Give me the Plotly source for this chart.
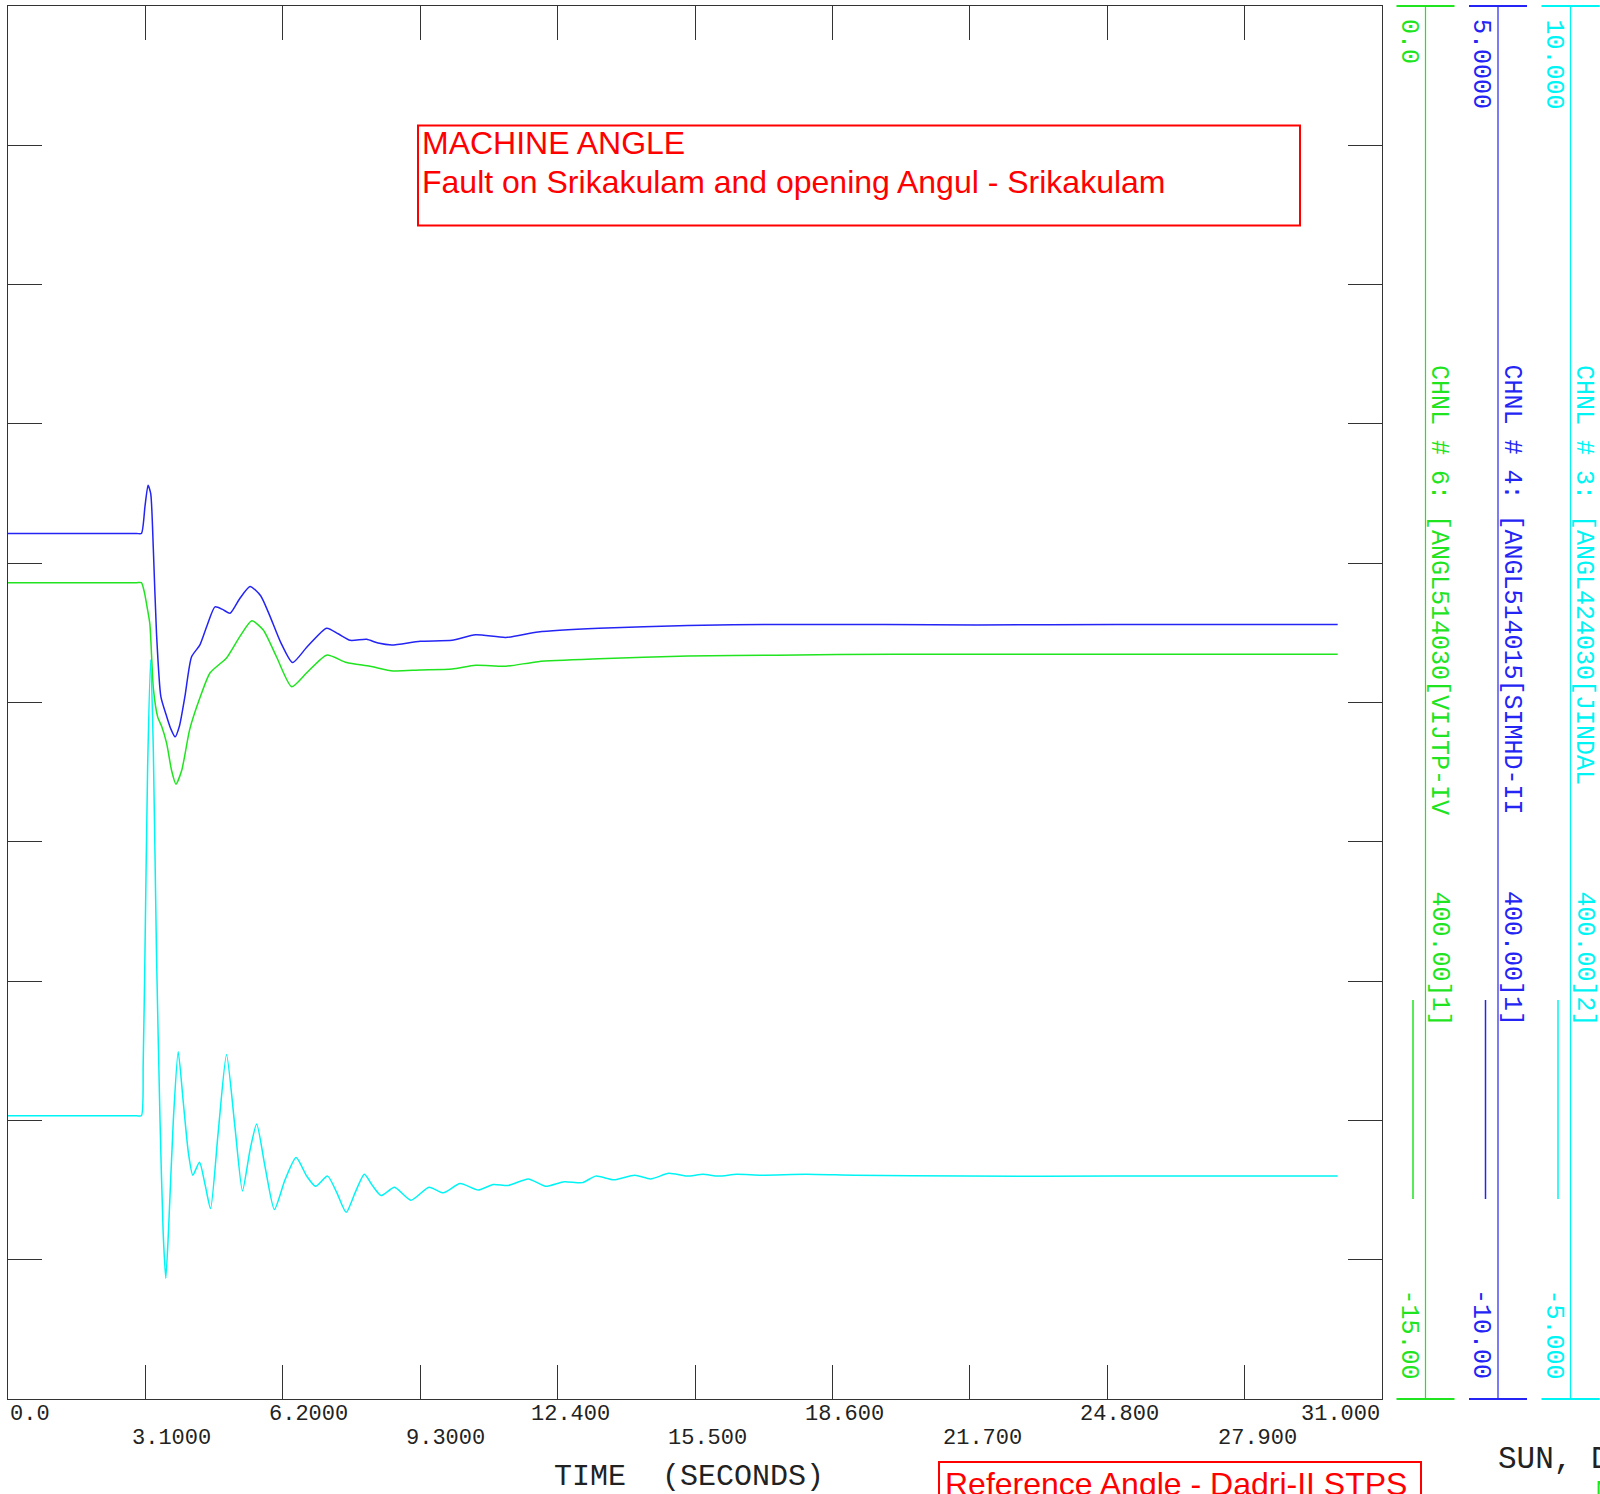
import plotly.graph_objects as go

# ---- values (time in seconds, machine angle in degrees) ----
t_green = [0.0, 1.5, 2.9, 3.01, 3.08, 3.13, 3.20, 3.28, 3.38, 3.47, 3.58, 3.69, 3.79, 3.92, 4.10,
           4.33, 4.56, 4.93, 5.23, 5.50, 5.76, 6.06, 6.40, 6.74, 7.19, 7.64, 8.17, 8.69, 9.30,
           10.02, 10.55, 11.23, 11.96, 13.33, 15.34, 17.35, 20.0, 25.0, 30.0]
ang_green = [-6.21, -6.21, -6.21, -6.21, -6.32, -6.45, -6.65, -7.35, -7.66, -7.76, -7.94, -8.23,
             -8.38, -8.23, -7.79, -7.45, -7.18, -7.02, -6.79, -6.62, -6.72, -7.01, -7.33, -7.18,
             -6.99, -7.07, -7.11, -7.16, -7.15, -7.14, -7.10, -7.11, -7.06, -7.03, -7.00, -6.99,
             -6.98, -6.98, -6.98]

t_blue = [0.0, 1.5, 2.9, 3.01, 3.09, 3.16, 3.22, 3.28, 3.35, 3.45, 3.58, 3.67, 3.77, 3.87, 3.99,
          4.14, 4.33, 4.50, 4.67, 4.85, 5.01, 5.23, 5.46, 5.70, 5.91, 6.15, 6.42, 6.75, 7.19,
          7.45, 7.72, 8.09, 8.35, 8.66, 9.30, 10.02, 10.55, 11.23, 11.96, 13.33, 15.34, 17.35,
          19.77, 21.87, 25.0, 30.0]
ang_blue = [-0.68, -0.68, -0.68, -0.68, -0.39, -0.16, -0.25, -0.86, -1.75, -2.44, -2.65, -2.78,
            -2.87, -2.75, -2.44, -2.01, -1.88, -1.66, -1.47, -1.50, -1.54, -1.38, -1.25, -1.35,
            -1.57, -1.85, -2.07, -1.90, -1.70, -1.76, -1.83, -1.82, -1.86, -1.88, -1.84, -1.83,
            -1.77, -1.80, -1.74, -1.70, -1.67, -1.66, -1.66, -1.665, -1.66, -1.66]

t_cyan = [0.0, 1.5, 2.9, 3.01, 3.05, 3.09, 3.15, 3.22, 3.28, 3.35, 3.43, 3.50, 3.56, 3.62, 3.73,
          3.84, 3.95, 4.07, 4.17, 4.32, 4.45, 4.57, 4.74, 4.93, 5.12, 5.29, 5.46, 5.61, 5.80,
          6.01, 6.25, 6.50, 6.74, 6.94, 7.21, 7.42, 7.63, 7.83, 8.04, 8.22, 8.42, 8.72, 9.09,
          9.50, 9.82, 10.20, 10.61, 10.95, 11.29, 11.74, 12.13, 12.55, 12.96, 13.26, 13.67,
          14.14, 14.50, 14.91, 15.32, 15.68, 16.03, 16.44, 17.00, 18.00, 19.10, 21.60, 25.0, 30.0]
ang_cyan = [-1.95, -1.95, -1.95, -1.95, -1.40, -0.20, 1.80, 2.96, 1.96, -0.20, -2.00, -3.20,
            -3.70, -3.20, -2.00, -1.26, -1.78, -2.35, -2.59, -2.45, -2.70, -2.95, -2.14, -1.29,
            -2.07, -2.76, -2.32, -2.04, -2.50, -2.96, -2.64, -2.40, -2.60, -2.71, -2.60, -2.78,
            -2.99, -2.78, -2.58, -2.70, -2.81, -2.72, -2.86, -2.72, -2.78, -2.68, -2.75, -2.69,
            -2.70, -2.63, -2.71, -2.66, -2.67, -2.60, -2.64, -2.59, -2.63, -2.57, -2.60, -2.58,
            -2.60, -2.58, -2.59, -2.58, -2.59, -2.60, -2.60, -2.60]

x_tick_vals = [0.0, 3.1, 6.2, 9.3, 12.4, 15.5, 18.6, 21.7, 24.8, 27.9, 31.0]
x_tick_text = ["0.0", "3.1000", "6.2000", "9.3000", "12.400", "15.500", "18.600",
               "21.700", "24.800", "27.900", "31.000"]

# channel order as drawn in the right-hand panel: green, blue, cyan
chan_names = ["CHNL # 6: [ANGL514030[VIJTP-IV", "CHNL # 4: [ANGL514015[SIMHD-II",
              "CHNL # 3: [ANGL424030[JINDAL"]
chan_tags = ["400.00]1]", "400.00]1]", "400.00]2]"]
scale_top = [0.0, 5.0, 10.0]
scale_bot = [-15.0, -10.0, -5.0]
scale_top_text = ["0.0", "5.0000", "10.000"]
scale_bot_text = ["-15.00", "-10.00", "-5.000"]

GREEN, BLUE, CYAN = "#1fe41f", "#2424f4", "#00f4f4"
chan_colors = [GREEN, BLUE, CYAN]
FRAME = "#333333"
MONO = "Liberation Mono"
SANS = "Liberation Sans"

# figure geometry in pixels
FIG_W, FIG_H = 1600, 1494
L, T, PW, PH = 8, 6, 1374, 1393


def px(x):
    # page pixel x -> paper coordinate
    return (x - L) / PW


def py(y):
    # page pixel y -> paper coordinate
    return 1 - (y - T) / PH


fig = go.Figure()

for t, a, col, ax in [(t_green, ang_green, GREEN, "y"), (t_blue, ang_blue, BLUE, "y2"),
                      (t_cyan, ang_cyan, CYAN, "y3")]:
    fig.add_trace(go.Scatter(x=t, y=a, mode="lines", yaxis=ax, showlegend=False,
                             line=dict(color=col, width=1.5, shape="spline", smoothing=0.6)))

n_div = 10
y_ticks = [scale_bot[0] + (scale_top[0] - scale_bot[0]) * i / n_div for i in range(n_div + 1)]

axis_common = dict(showticklabels=False, ticks="inside", ticklen=34, tickcolor=FRAME, tickwidth=1,
                   showline=True, linecolor=FRAME, linewidth=1, mirror="ticks",
                   showgrid=False, zeroline=False)

fig.update_layout(
    width=FIG_W, height=FIG_H,
    margin=dict(l=L, t=T, r=FIG_W - L - PW, b=FIG_H - T - PH, pad=0),
    paper_bgcolor="white", plot_bgcolor="white",
    xaxis=dict(range=[x_tick_vals[0], x_tick_vals[-1]], tickvals=x_tick_vals, **axis_common),
    yaxis=dict(range=[scale_bot[0], scale_top[0]], tickvals=y_ticks, **axis_common),
    yaxis2=dict(range=[scale_bot[1], scale_top[1]], overlaying="y", visible=False),
    yaxis3=dict(range=[scale_bot[2], scale_top[2]], overlaying="y", visible=False),
)

# x tick labels, staggered in two rows, decimal point near the tick
pitch = 0.6 * 22
for i, (v, s) in enumerate(zip(x_tick_vals, x_tick_text)):
    tick_px = L + (v - x_tick_vals[0]) / (x_tick_vals[-1] - x_tick_vals[0]) * PW
    left = tick_px - (s.index(".") + 0.5) * pitch + 4
    left = min(max(left, L), L + PW - len(s) * pitch - 4)
    fig.add_annotation(x=px(left), y=0, xref="paper", yref="paper", xanchor="left",
                       yanchor="middle", yshift=-(15 + 24 * (i % 2)), text=s, showarrow=False,
                       font=dict(family=MONO, size=22, color="#222"))

fig.add_annotation(x=px(689), y=py(1477), xref="paper", yref="paper", xanchor="center",
                   yanchor="middle", text="TIME \u00a0(SECONDS)", showarrow=False,
                   font=dict(family=MONO, size=30, color="#222"))

# right-hand channel scale bars
shapes = []
for k in range(3):
    col = chan_colors[k]
    vx = 1425.5 + 72.5 * k
    for yy in (T, T + PH):
        shapes.append(dict(type="line", xref="paper", yref="paper", x0=px(vx - 29), x1=px(vx + 29),
                           y0=py(yy), y1=py(yy), line=dict(color=col, width=2)))
    shapes.append(dict(type="line", xref="paper", yref="paper", x0=px(vx), x1=px(vx),
                       y0=py(T), y1=py(T + PH), line=dict(color=col, width=1.2)))
    shapes.append(dict(type="line", xref="paper", yref="paper", x0=px(vx - 12.5), x1=px(vx - 12.5),
                       y0=py(1000), y1=py(1199), line=dict(color=col, width=1.5)))
    vfont = dict(family=MONO, size=25, color=col)
    fig.add_annotation(x=px(vx - 17), y=py(17), xref="paper", yref="paper", textangle=90,
                       xanchor="center", yanchor="top", text=scale_top_text[k], showarrow=False, font=vfont)
    fig.add_annotation(x=px(vx - 17), y=py(1381), xref="paper", yref="paper", textangle=90,
                       xanchor="center", yanchor="bottom", text=scale_bot_text[k], showarrow=False, font=vfont)
    fig.add_annotation(x=px(vx + 13.5), y=py(363), xref="paper", yref="paper", textangle=90,
                       xanchor="center", yanchor="top", text=chan_names[k], showarrow=False, font=vfont)
    fig.add_annotation(x=px(vx + 13.5), y=py(889), xref="paper", yref="paper", textangle=90,
                       xanchor="center", yanchor="top", text=chan_tags[k], showarrow=False, font=vfont)

# red title box
shapes.append(dict(type="rect", xref="paper", yref="paper", x0=px(418), x1=px(1300),
                   y0=py(125.5), y1=py(225.5), line=dict(color="red", width=2)))
fig.add_annotation(x=px(420), y=py(143), xref="paper", yref="paper", xanchor="left", yanchor="middle",
                   text="MACHINE ANGLE", showarrow=False, font=dict(family=SANS, size=32, color="red"))
fig.add_annotation(x=px(420), y=py(182), xref="paper", yref="paper", xanchor="left", yanchor="middle",
                   text="Fault on Srikakulam and opening Angul - Srikakulam", showarrow=False,
                   font=dict(family=SANS, size=32, color="red"))

# reference-angle box at the bottom (cut by the page edge)
shapes.append(dict(type="rect", xref="paper", yref="paper", x0=px(939), x1=px(1421),
                   y0=py(1462), y1=py(1530), line=dict(color="red", width=2)))
fig.add_annotation(x=px(943), y=py(1464), xref="paper", yref="paper", xanchor="left", yanchor="top",
                   text="Reference Angle - Dadri-II STPS", showarrow=False,
                   font=dict(family=SANS, size=32, color="red"))

fig.add_annotation(x=px(1496), y=py(1459), xref="paper", yref="paper", xanchor="left", yanchor="middle",
                   text="SUN, DEC", showarrow=False, font=dict(family=MONO, size=31, color="#222"))
fig.add_annotation(x=px(1594), y=py(1490), xref="paper", yref="paper", xanchor="left", yanchor="middle",
                   text="MACHINE", showarrow=False, font=dict(family=MONO, size=24, color=GREEN))

fig.update_layout(shapes=shapes)

# the figure fills the whole window, so drop the page's default body margin
fig.write_html("out.html", config={"displayModeBar": False},
               post_script="document.body.style.margin = '0px';")
